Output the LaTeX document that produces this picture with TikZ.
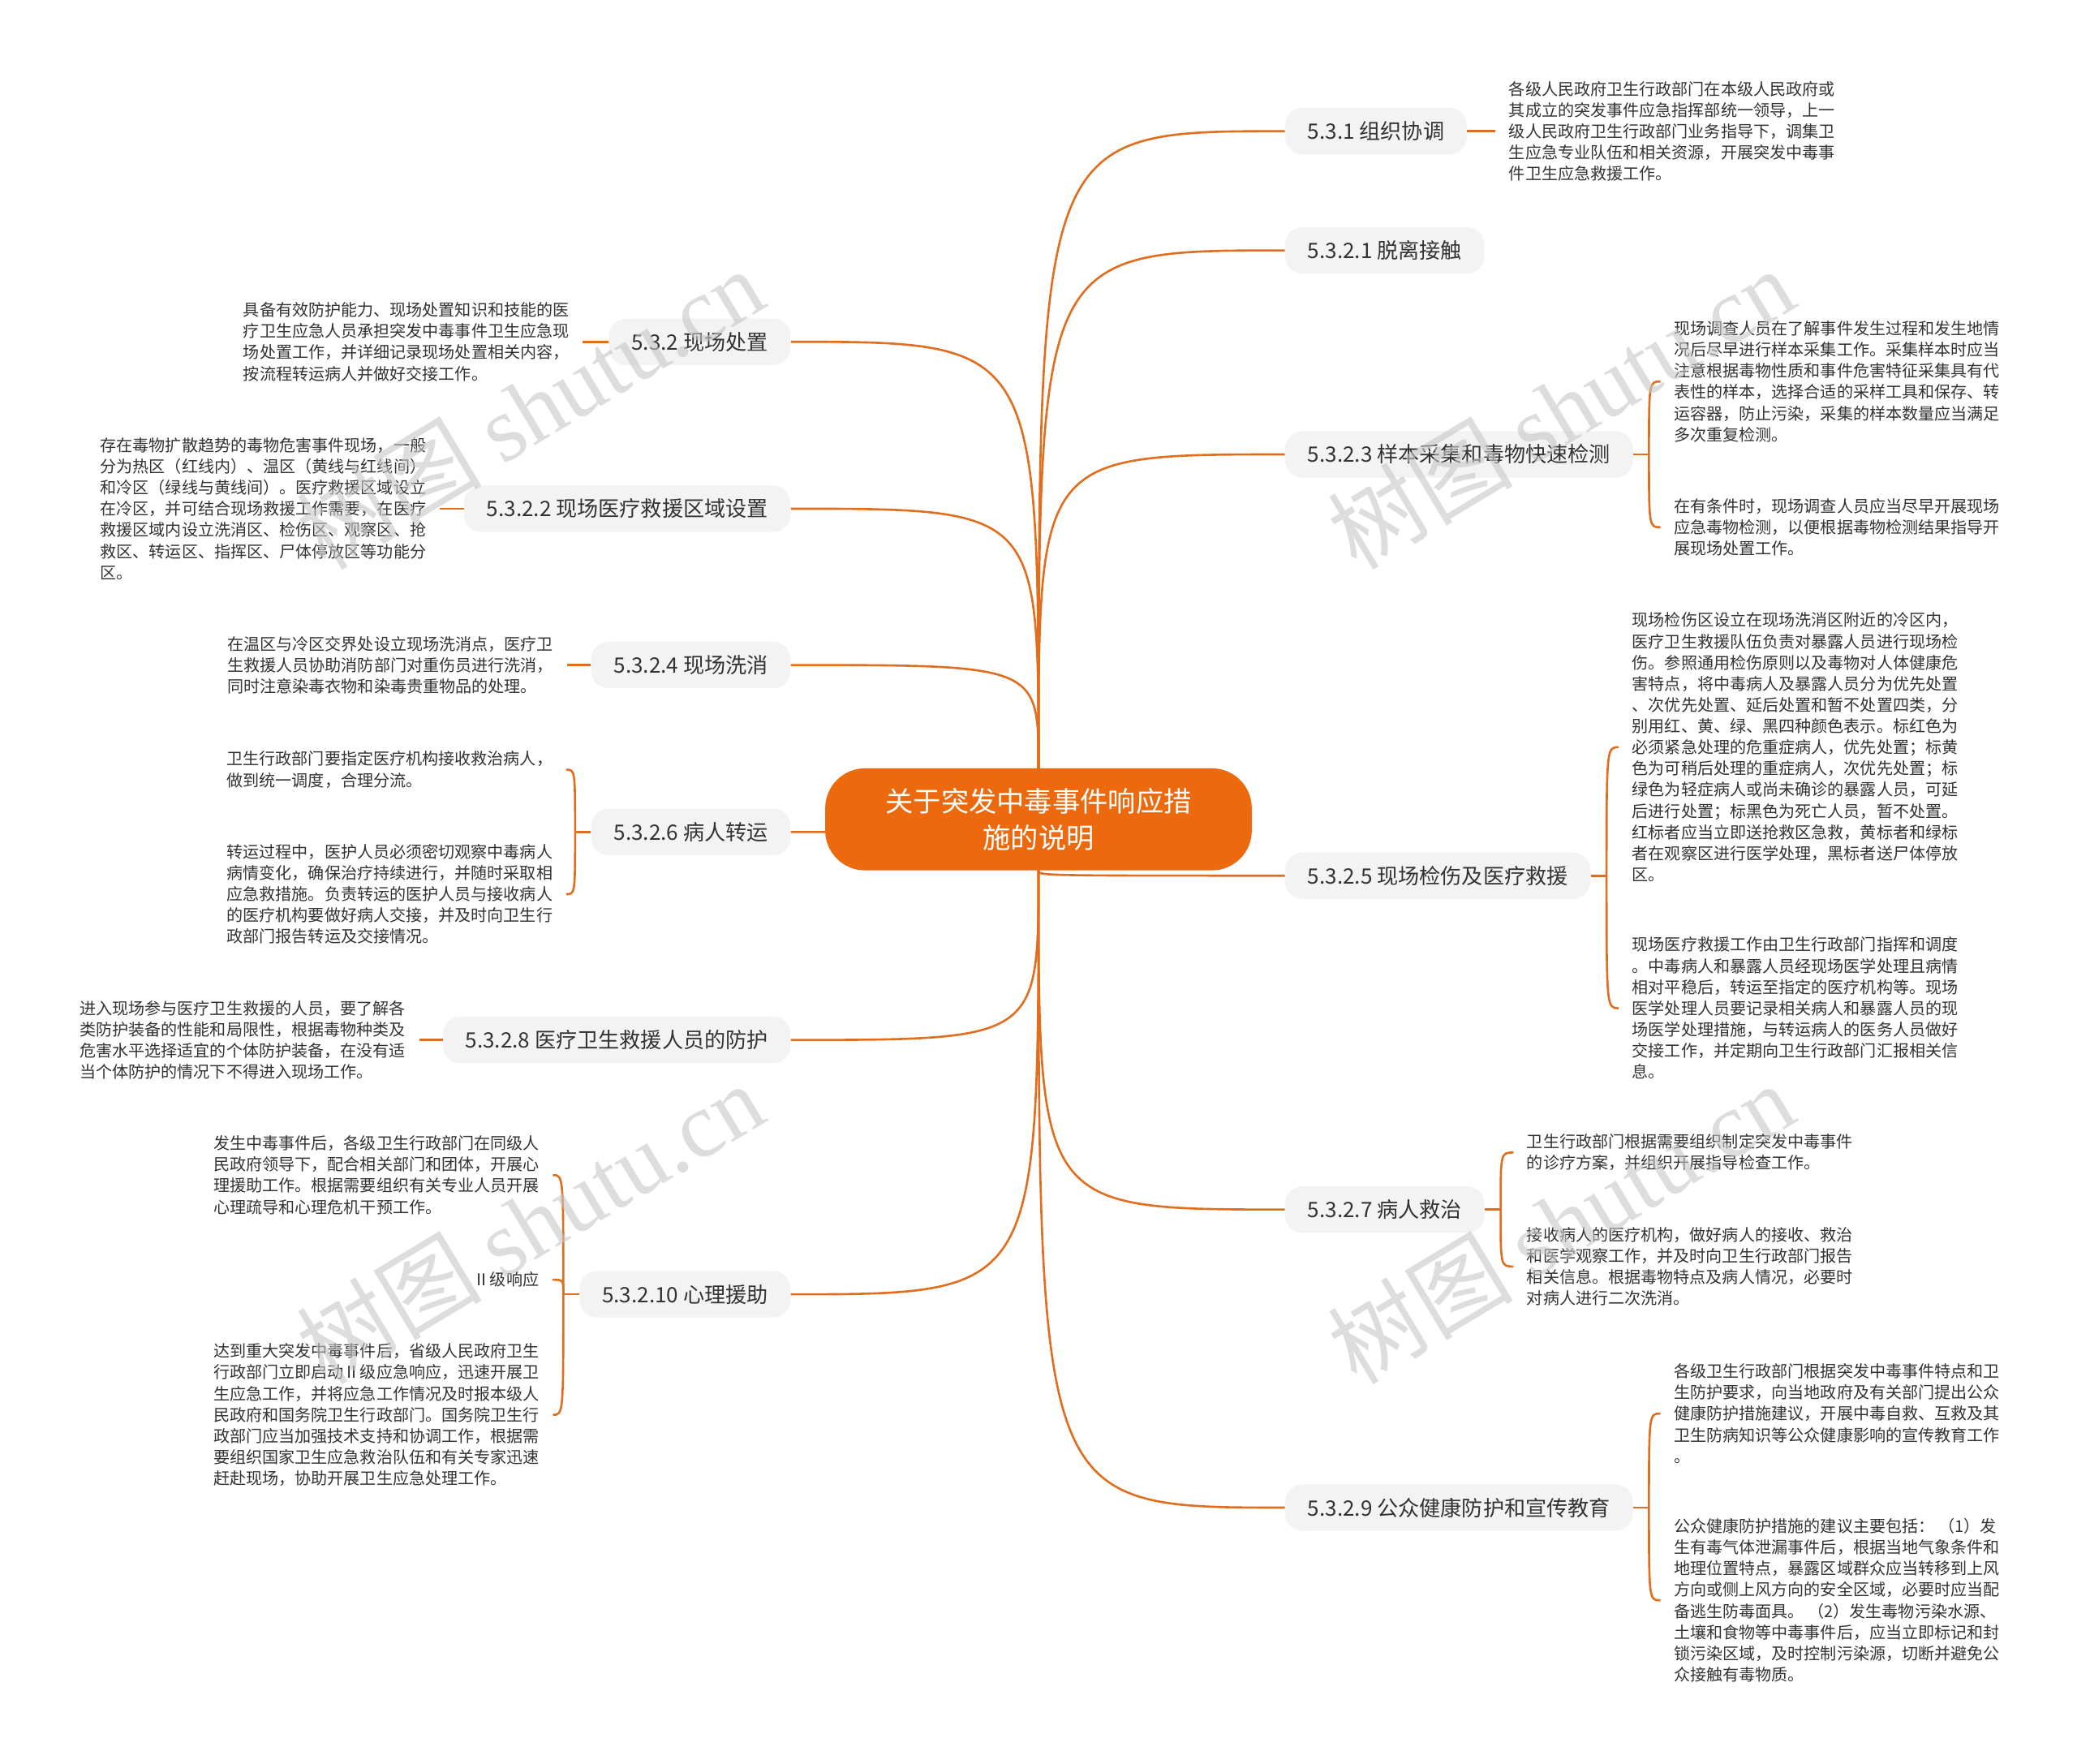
\documentclass[tikz,border=0pt]{standalone}
\usepackage{fontspec}
\setmainfont{Noto Sans CJK SC}
\newfontfamily\markfont{Liberation Serif}
\usetikzlibrary{backgrounds}
\definecolor{wire}{HTML}{E06E1E}
\definecolor{rootfill}{HTML}{EC690D}
\definecolor{boxfill}{HTML}{F3F3F3}
\definecolor{ink}{HTML}{333333}

\begin{document}
\begin{tikzpicture}[x=1pt,y=-1pt,
  rootnode/.style={fill=rootfill,text=white,rounded corners=30pt,minimum width=322pt,minimum height=77pt,align=center,font=\fontsize{21}{28}\selectfont},
  branch/.style={fill=boxfill,text=ink,rounded corners=13pt,minimum height=35pt,inner xsep=17pt,font=\fontsize{16}{20}\selectfont},
  leaf/.style={text=ink,align=left,inner xsep=10pt,inner ysep=0pt,anchor=west,font=\fontsize{12.3}{16}\selectfont},
  link/.style={draw=wire,line width=1.6pt},
  wmark/.style={text=black!22,opacity=0.6,rotate=31,font=\fontsize{70}{70}\selectfont}]
  \useasboundingbox (0,0) rectangle (1568,1331);

  \node[rootnode] (root) at (784,618.5) {关于突发中毒事件响应措\\施的说明};

  \node[branch,anchor=west] (b531) at (970,99) {5.3.1 组织协调};
  \node[branch,anchor=west] (b5321) at (970,189) {5.3.2.1 脱离接触};
  \node[branch,anchor=west] (b5323) at (970,343) {5.3.2.3 样本采集和毒物快速检测};
  \node[branch,anchor=west] (b5325) at (970,661) {5.3.2.5 现场检伤及医疗救援};
  \node[branch,anchor=west] (b5327) at (970,913) {5.3.2.7 病人救治};
  \node[branch,anchor=west] (b5329) at (970,1138) {5.3.2.9 公众健康防护和宣传教育};
  \node[branch,anchor=east] (b532) at (597,258) {5.3.2 现场处置};
  \node[branch,anchor=east] (b5322) at (597,384) {5.3.2.2 现场医疗救援区域设置};
  \node[branch,anchor=east] (b5324) at (597,502) {5.3.2.4 现场洗消};
  \node[branch,anchor=east] (b5326) at (597,628) {5.3.2.6 病人转运};
  \node[branch,anchor=east] (b5328) at (597,785) {5.3.2.8 医疗卫生救援人员的防护};
  \node[branch,anchor=east] (b53210) at (597,977) {5.3.2.10 心理援助};

  \node[leaf] (t531) at (1129,99) {各级人民政府卫生行政部门在本级人民政府或\\其成立的突发事件应急指挥部统一领导，上一\\级人民政府卫生行政部门业务指导下，调集卫\\生应急专业队伍和相关资源，开展突发中毒事\\件卫生应急救援工作。};
  \node[leaf] (t5323a) at (1253.5,288) {现场调查人员在了解事件发生过程和发生地情\\况后尽早进行样本采集工作。采集样本时应当\\注意根据毒物性质和事件危害特征采集具有代\\表性的样本，选择合适的采样工具和保存、转\\运容器，防止污染，采集的样本数量应当满足\\多次重复检测。};
  \node[leaf] (t5323b) at (1253.5,398) {在有条件时，现场调查人员应当尽早开展现场\\应急毒物检测，以便根据毒物检测结果指导开\\展现场处置工作。};
  \node[leaf] (t5325a) at (1222,564) {现场检伤区设立在现场洗消区附近的冷区内，\\医疗卫生救援队伍负责对暴露人员进行现场检\\伤。参照通用检伤原则以及毒物对人体健康危\\害特点，将中毒病人及暴露人员分为优先处置\\、次优先处置、延后处置和暂不处置四类，分\\别用红、黄、绿、黑四种颜色表示。标红色为\\必须紧急处理的危重症病人，优先处置；标黄\\色为可稍后处理的重症病人，次优先处置；标\\绿色为轻症病人或尚未确诊的暴露人员，可延\\后进行处置；标黑色为死亡人员，暂不处置。\\红标者应当立即送抢救区急救，黄标者和绿标\\者在观察区进行医学处理，黑标者送尸体停放\\区。};
  \node[leaf] (t5325b) at (1222,761) {现场医疗救援工作由卫生行政部门指挥和调度\\。中毒病人和暴露人员经现场医学处理且病情\\相对平稳后，转运至指定的医疗机构等。现场\\医学处理人员要记录相关病人和暴露人员的现\\场医学处理措施，与转运病人的医务人员做好\\交接工作，并定期向卫生行政部门汇报相关信\\息。};
  \node[leaf] (t5327a) at (1142.5,870) {卫生行政部门根据需要组织制定突发中毒事件\\的诊疗方案，并组织开展指导检查工作。};
  \node[leaf] (t5327b) at (1142.5,956) {接收病人的医疗机构，做好病人的接收、救治\\和医学观察工作，并及时向卫生行政部门报告\\相关信息。根据毒物特点及病人情况，必要时\\对病人进行二次洗消。};
  \node[leaf] (t5329a) at (1253.5,1067) {各级卫生行政部门根据突发中毒事件特点和卫\\生防护要求，向当地政府及有关部门提出公众\\健康防护措施建议，开展中毒自救、互救及其\\卫生防病知识等公众健康影响的宣传教育工作\\。};
  \node[leaf] (t5329b) at (1253.5,1208) {公众健康防护措施的建议主要包括： （1）发\\生有毒气体泄漏事件后，根据当地气象条件和\\地理位置特点，暴露区域群众应当转移到上风\\方向或侧上风方向的安全区域，必要时应当配\\备逃生防毒面具。 （2）发生毒物污染水源、\\土壤和食物等中毒事件后，应当立即标记和封\\锁污染区域，及时控制污染源，切断并避免公\\众接触有毒物质。};

  \node[leaf] (t532) at (173.5,258) {具备有效防护能力、现场处置知识和技能的医\\疗卫生应急人员承担突发中毒事件卫生应急现\\场处置工作，并详细记录现场处置相关内容，\\按流程转运病人并做好交接工作。};
  \node[leaf] (t5322) at (65.5,384) {存在毒物扩散趋势的毒物危害事件现场，一般\\分为热区（红线内）、温区（黄线与红线间）\\和冷区（绿线与黄线间）。医疗救援区域设立\\在冷区，并可结合现场救援工作需要，在医疗\\救援区域内设立洗消区、检伤区、观察区、抢\\救区、转运区、指挥区、尸体停放区等功能分\\区。};
  \node[leaf] (t5324) at (161.5,502) {在温区与冷区交界处设立现场洗消点，医疗卫\\生救援人员协助消防部门对重伤员进行洗消，\\同时注意染毒衣物和染毒贵重物品的处理。};
  \node[leaf] (t5326a) at (161,581) {卫生行政部门要指定医疗机构接收救治病人，\\做到统一调度，合理分流。};
  \node[leaf] (t5326b) at (161,675) {转运过程中，医护人员必须密切观察中毒病人\\病情变化，确保治疗持续进行，并随时采取相\\应急救措施。负责转运的医护人员与接收病人\\的医疗机构要做好病人交接，并及时向卫生行\\政部门报告转运及交接情况。};
  \node[leaf] (t5328) at (50,785) {进入现场参与医疗卫生救援的人员，要了解各\\类防护装备的性能和局限性，根据毒物种类及\\危害水平选择适宜的个体防护装备，在没有适\\当个体防护的情况下不得进入现场工作。};
  \node[leaf] (t53210a) at (151,887) {发生中毒事件后，各级卫生行政部门在同级人\\民政府领导下，配合相关部门和团体，开展心\\理援助工作。根据需要组织有关专业人员开展\\心理疏导和心理危机干预工作。};
  \node[leaf,anchor=east] (t53210i) at (417,966) {Ⅱ级响应};
  \node[leaf] (t53210b) at (151,1068) {达到重大突发中毒事件后，省级人民政府卫生\\行政部门立即启动Ⅱ级应急响应，迅速开展卫\\生应急工作，并将应急工作情况及时报本级人\\民政府和国务院卫生行政部门。国务院卫生行\\政部门应当加强技术支持和协调工作，根据需\\要组织国家卫生应急救治队伍和有关专家迅速\\赶赴现场，协助开展卫生应急处理工作。};

  \begin{scope}[on background layer]
    \fill[white] (0,0) rectangle (1568,1331);
    \foreach \b in {b531,b5321,b5323,b5325,b5327,b5329}
      \draw[link] (root) .. controls (root |- \b.west) .. (\b.west);
    \foreach \b in {b532,b5322,b5324,b5326,b5328,b53210}
      \draw[link] (root) .. controls (root |- \b.east) .. (\b.east);
  \end{scope}

  \draw[link] (b531.east) -- (t531.west);
  \draw[link] (b532.west) -- (t532.east);
  \draw[link] (b5322.west) -- (t5322.east);
  \draw[link] (b5324.west) -- (t5324.east);
  \draw[link] (b5328.west) -- (t5328.east);

  \draw[link] (b5323.east) -- ++(12,0) coordinate (j5323);
  \draw[link] (j5323) .. controls (j5323 |- t5323a.west) .. (t5323a.west);
  \draw[link] (j5323) .. controls (j5323 |- t5323b.west) .. (t5323b.west);
  \draw[link] (b5325.east) -- ++(12,0) coordinate (j5325);
  \draw[link] (j5325) .. controls (j5325 |- t5325a.west) .. (t5325a.west);
  \draw[link] (j5325) .. controls (j5325 |- t5325b.west) .. (t5325b.west);
  \draw[link] (b5327.east) -- ++(12,0) coordinate (j5327);
  \draw[link] (j5327) .. controls (j5327 |- t5327a.west) .. (t5327a.west);
  \draw[link] (j5327) .. controls (j5327 |- t5327b.west) .. (t5327b.west);
  \draw[link] (b5329.east) -- ++(12,0) coordinate (j5329);
  \draw[link] (j5329) .. controls (j5329 |- t5329a.west) .. (t5329a.west);
  \draw[link] (j5329) .. controls (j5329 |- t5329b.west) .. (t5329b.west);
  \draw[link] (b5326.west) -- ++(-12,0) coordinate (j5326);
  \draw[link] (j5326) .. controls (j5326 |- t5326a.east) .. (t5326a.east);
  \draw[link] (j5326) .. controls (j5326 |- t5326b.east) .. (t5326b.east);
  \draw[link] (b53210.west) -- ++(-12,0) coordinate (j53210);
  \draw[link] (j53210) .. controls (j53210 |- t53210a.east) .. (t53210a.east);
  \draw[link] (j53210) .. controls (j53210 |- t53210i.east) .. (t53210i.east);
  \draw[link] (j53210) .. controls (j53210 |- t53210b.east) .. (t53210b.east);

  \node[wmark] (w1) at (400,308) {树图 {\markfont shutu.cn}};
  \node[wmark] (w2) at (1178,308) {树图 {\markfont shutu.cn}};
  \node[wmark] (w3) at (400,923) {树图 {\markfont shutu.cn}};
  \node[wmark] (w4) at (1178,923) {树图 {\markfont shutu.cn}};
\end{tikzpicture}
\end{document}
